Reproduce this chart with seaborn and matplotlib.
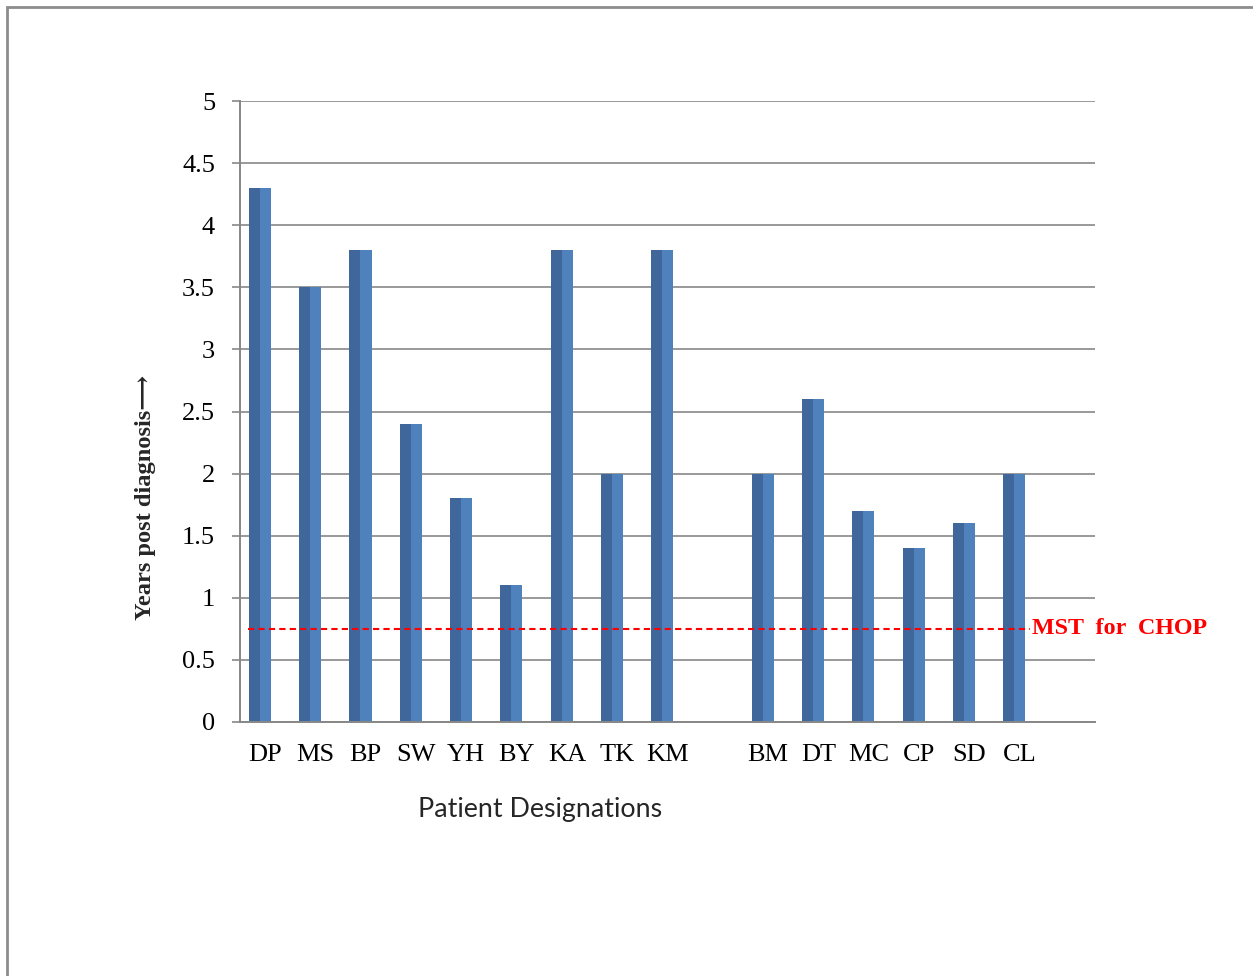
import numpy as np
import pandas as pd
import matplotlib
matplotlib.use("Agg")
import matplotlib.pyplot as plt
from matplotlib.patches import Rectangle
import seaborn as sns

# Patient groups, with an empty slot after each group
categories = ["DP", "MS", "BP", "SW", "YH", "BY", "KA", "TK", "KM", "",
              "BM", "DT", "MC", "CP", "SD", "CL", ""]
years = [4.3, 3.5, 3.8, 2.4, 1.8, 1.1, 3.8, 2.0, 3.8, None,
         2.0, 2.6, 1.7, 1.4, 1.6, 2.0, None]
mst_chop = 0.75
y_ticks = [0, 0.5, 1, 1.5, 2, 2.5, 3, 3.5, 4, 4.5, 5]
y_tick_labels = ["0", "0.5", "1", "1.5", "2", "2.5", "3", "3.5", "4", "4.5", "5"]

# Long-form table: each bar is drawn as a darker left half and a lighter right half
rows = []
for i, (c, v) in enumerate(zip(categories, years)):
    if v is None:
        continue
    for half in ("left", "right"):
        rows.append({"slot": i, "patient": c, "half": half, "years": v})
df = pd.DataFrame(rows)

sns.set_style("white")
plt.rcParams["font.family"] = ["Liberation Serif", "DejaVu Serif"]

fig = plt.figure(figsize=(12.53, 9.76), dpi=100)
ax = fig.add_axes([240 / 1253, 1 - 722 / 976, 855 / 1253, 621 / 976])

grid_c = "#878787"
sns.barplot(data=df, x="slot", y="years", hue="half", order=list(range(len(categories))),
            hue_order=["left", "right"], palette={"left": "#3f679b", "right": "#4f81bd"},
            width=0.44, dodge=True, gap=0, saturation=1, errorbar=None,
            linewidth=0, legend=False, ax=ax)

# Bars sit slightly left of the slot centre
for p in ax.patches:
    p.set_x(p.get_x() - 0.105)

ax.set_axisbelow(True)
ax.set_ylim(0, 5)
ax.set_xlim(-0.5, len(categories) - 0.5)
ax.set_yticks(y_ticks)
ax.set_yticklabels(y_tick_labels, fontsize=19)
ax.yaxis.grid(True, color=grid_c, linewidth=1.2)
ax.xaxis.grid(False)

ax.set_xticks(range(len(categories)))
ax.set_xticklabels(categories, fontsize=19)
ax.set_xticks(np.arange(-0.5, len(categories), 1.0), minor=True)
ax.tick_params(axis="x", which="major", length=0, pad=15.5, colors="black")
ax.tick_params(axis="x", which="minor", length=6, width=1.2, color=grid_c, direction="out")
ax.tick_params(axis="y", which="major", length=6, width=1.2, color=grid_c, pad=12,
               direction="out", left=True, labelcolor="black")
for side in ("top", "right"):
    ax.spines[side].set_visible(False)
for side in ("left", "bottom"):
    ax.spines[side].set_color(grid_c)
    ax.spines[side].set_linewidth(1.4)
ax.set_xlabel("")
ax.set_ylabel("")

# Median survival time reference line
ax.axhline(mst_chop, xmin=8 / 855, xmax=790 / 855, color="#ff0000",
           linestyle=(0, (3, 2)), linewidth=1.5, zorder=5)
ax.text(792 / 855, mst_chop, "MST  for  CHOP", transform=ax.get_yaxis_transform(),
        color="#ff0000", fontsize=17.3, fontweight="bold", ha="left", va="center")

fig.text(146 / 1253, 1 - 497 / 976, "Years post diagnosis\u27f6", rotation=90,
         fontsize=17.6, fontweight="bold", ha="center", va="center",
         family=["Liberation Serif", "DejaVu Serif"])
fig.text(540 / 1253, 1 - 809 / 976, "Patient Designations", fontsize=19.3,
         family=["Lato", "DejaVu Sans"], ha="center", va="center")

# Outer frame
fig.patches.append(Rectangle((7 / 1253, -0.1), 1.2, 1 - 7 / 976 + 0.1,
                             transform=fig.transFigure, fill=False,
                             edgecolor="#8c8c8c", linewidth=2))

fig.savefig("out.png", dpi=100)
